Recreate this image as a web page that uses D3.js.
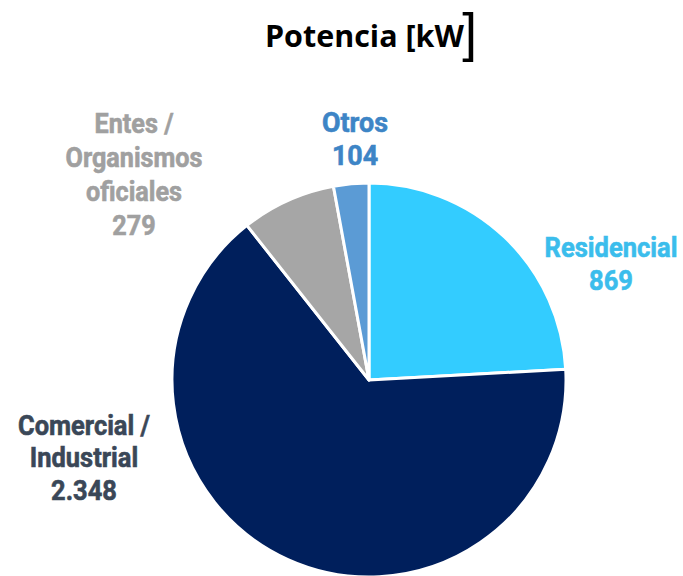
<!DOCTYPE html>
<html><head><meta charset="utf-8">
<script src="https://cdn.jsdelivr.net/npm/d3@7"></script>
<style>
body{margin:0;background:#fff;}
svg{display:block;}
.lbl{font-family:Roboto,"DejaVu Sans",sans-serif;font-weight:bold;font-size:28px;}
</style></head>
<body>
<svg id="chart" width="683" height="576"></svg>
<script>
const title = "Potencia [kW";
const titleClose = "]";
const categories = ["Residencial", "Comercial / Industrial", "Entes / Organismos oficiales", "Otros"];
const values = [869, 2348, 279, 104];
const valueLabels = ["869", "2.348", "279", "104"];
const labelLines = [["Residencial"], ["Comercial /", "Industrial"], ["Entes /", "Organismos", "oficiales"], ["Otros"]];
const colors = ["#33CCFF", "#001F5C", "#A6A6A6", "#5B9BD5"];
const labelColors = ["#3BBDEC", "#3A4757", "#A0A0A0", "#3D85C6"];

const svg = d3.select("#chart");
const cx = 369, cy = 380, R = 197;

const t = svg.append("text").attr("x", 265).attr("y", 47).attr("text-anchor", "start")
  .style("font-family", "'Open Sans', sans-serif").style("font-weight", 700).style("font-size", "30px").attr("fill", "#000")
  .text(title);
const tw = t.node().getComputedTextLength();
t.attr("transform", `translate(265,0) scale(${199 / tw},1) translate(-265,0)`);
svg.append("text").attr("x", 477).attr("y", 51).attr("text-anchor", "end")
  .style("font-family", "'Liberation Sans', sans-serif").style("font-weight", 400).style("font-size", "53px").attr("fill", "#000")
  .text(titleClose);

const pie = d3.pie().sort(null).value(d => d)(values);
const arc = d3.arc().innerRadius(0).outerRadius(R);
const g = svg.append("g").attr("transform", `translate(${cx},${cy})`);
g.selectAll("path").data(pie).join("path")
  .attr("d", arc).attr("fill", (d, i) => colors[i])
  .attr("stroke", "#fff").attr("stroke-width", 3).attr("stroke-linejoin", "round");

// label layout: center x, first baseline y, line height, target width of widest line
const labelPos = [[611, 257, 33, 133], [84, 435, 32.5, 132], [134, 133, 34, 137], [355, 132, 33, 66]];
labelPos.forEach((p, i) => {
  const lines = labelLines[i].concat([valueLabels[i]]);
  const grp = svg.append("g").attr("transform", `translate(${p[0]},0)`);
  const tx = grp.append("text").attr("class", "lbl").attr("text-anchor", "middle")
    .attr("fill", labelColors[i]).attr("stroke", labelColors[i]).attr("stroke-width", 0.6);
  lines.forEach((l, j) => {
    tx.append("tspan").attr("x", 0).attr("y", p[1] + j * p[2]).text(l);
  });
  let w = 0;
  tx.selectAll("tspan").each(function() { w = Math.max(w, this.getComputedTextLength()); });
  const k = p[3] / w;
  grp.attr("transform", `translate(${p[0]},0) scale(${k},1)`);
});
</script>
</body></html>
